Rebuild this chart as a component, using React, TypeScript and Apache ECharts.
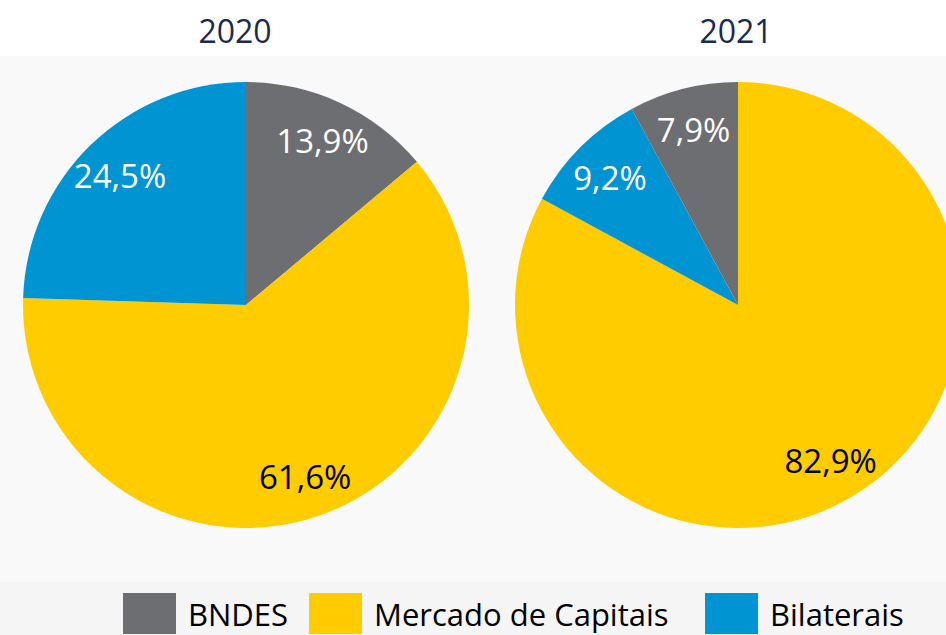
import React, { useEffect, useRef } from "react";
import * as echarts from "echarts";

const categories = ["BNDES", "Mercado de Capitais", "Bilaterais"];
const colors = ["#6d6e71", "#ffcc00", "#0094d3"];
const labelColors = ["#ffffff", "#000000", "#ffffff"];
const years = ["2020", "2021"];
const values2020 = [13.9, 61.6, 24.5];
const values2021 = [7.9, 82.9, 9.2];
// clockwise drawing order starting at 12 o'clock
const order2020 = [0, 1, 2];
const order2021 = [1, 2, 0];

const FONT = "'Open Sans', 'Liberation Sans', sans-serif";

function fmt(v: number) {
  return v.toFixed(1).replace(".", ",") + "%";
}

function buildData(values: number[], order: number[], transparent: boolean) {
  return order.map((i) => ({
    name: categories[i],
    value: values[i],
    itemStyle: { color: transparent ? "rgba(0,0,0,0)" : colors[i] },
    label: { color: labelColors[i] },
  }));
}

export default function App() {
  const ref = useRef<HTMLDivElement>(null);
  useEffect(() => {
    document.body.style.margin = "0";
    if (!ref.current) return;
    const chart = echarts.init(ref.current, undefined, { renderer: "svg" });
    const centers = [
      [246, 305],
      [738, 305],
    ];
    const titleLefts = [230, 731];
    const legendTextWidths = [101, 311, 137];
    const valueSets = [values2020, values2021];
    const orders = [order2020, order2021];
    const series: any[] = [];
    for (let k = 0; k < 2; k++) {
      series.push({
        type: "pie",
        center: centers[k],
        radius: 223,
        startAngle: 90,
        clockwise: true,
        silent: true,
        label: { show: false },
        labelLine: { show: false },
        itemStyle: { borderWidth: 0 },
        data: buildData(valueSets[k], orders[k], false),
      });
    }
    for (let k = 0; k < 2; k++) {
      series.push({
        type: "pie",
        center: centers[k],
        radius: [133, 223],
        startAngle: 90,
        clockwise: true,
        silent: true,
        legendHoverLink: false,
        label: {
          show: true,
          position: "inside",
          fontFamily: FONT,
          fontSize: 33,
          formatter: (p: any) => fmt(p.value),
        },
        labelLine: { show: false },
        itemStyle: { borderWidth: 0 },
        data: buildData(valueSets[k], orders[k], true),
      });
    }
    chart.setOption({
      animation: false,
      backgroundColor: "#f9f9fa",
      graphic: [
        { type: "rect", shape: { x: 0, y: 0, width: 946, height: 56 }, style: { fill: "#ffffff" }, z: -10 },
        { type: "rect", shape: { x: 0, y: 582, width: 946, height: 53 }, style: { fill: "#f5f5f5" }, z: -10 },
      ],
      title: years.map((y, k) => ({
        text: y,
        left: titleLefts[k],
        top: 9,
        textAlign: "center",
        textStyle: { fontFamily: FONT, fontSize: 32, fontWeight: "normal", color: "#1c2b4a" },
      })),
      legend: {
        data: categories.map((c, i) => ({
          name: c,
          textStyle: { width: legendTextWidths[i] },
        })),
        left: 123,
        top: 593,
        padding: 0,
        itemWidth: 53,
        itemHeight: 41,
        itemGap: 20,
        icon: "rect",
        selectedMode: false,
        textStyle: {
          fontFamily: FONT,
          fontSize: 31,
          lineHeight: 31,
          color: "#000000",
          padding: [0, 0, 0, 7],
        },
      },
      series,
    });
    return () => chart.dispose();
  }, []);
  return <div ref={ref} style={{ width: 946, height: 635 }} />;
}
